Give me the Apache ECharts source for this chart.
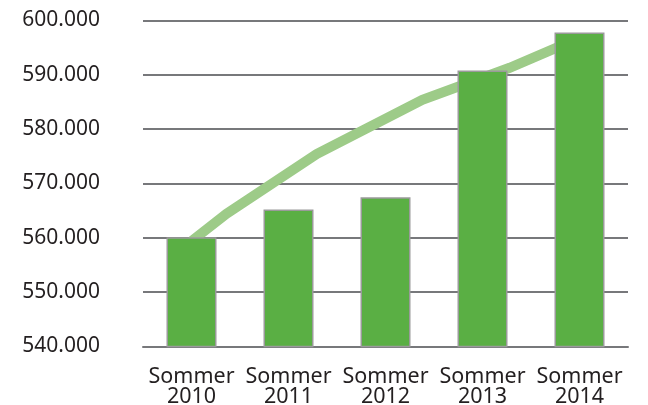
<!DOCTYPE html>
<html><head><meta charset="utf-8">
<script src="https://cdn.jsdelivr.net/npm/echarts@6/dist/echarts.min.js"></script>
<style>html,body{margin:0;padding:0;background:#fff}#c{width:648px;height:405px}</style>
</head><body><div id="c"></div>
<script>
const categories = ["Sommer\n2010", "Sommer\n2011", "Sommer\n2012", "Sommer\n2013", "Sommer\n2014"];
const barValues = [560100, 565200, 567450, 590800, 597800];
const trendX = [0, 0.36, 1.29, 2.38, 3.28, 4];
const trendY = [559400, 564400, 575400, 585400, 591300, 596800];
const yTicks = { min: 540000, max: 600000, interval: 10000 };

const chart = echarts.init(document.getElementById('c'), null, { renderer: 'canvas' });
const font = '"Noto Sans", "Open Sans", sans-serif';
chart.setOption({
  animation: false,
  backgroundColor: '#ffffff',
  grid: { left: 143, width: 485, top: 20.5, height: 326, outerBoundsMode: 'none', containLabel: false },
  xAxis: [
    {
      type: 'category', data: categories,
      axisLine: { show: true, lineStyle: { color: '#77787b', width: 2 } },
      axisTick: { show: false },
      axisLabel: { color: '#231f20', fontFamily: font, fontSize: 21.5, lineHeight: 20, margin: 20, interval: 0 }
    },
    { type: 'value', min: -0.5, max: 4.5, show: false }
  ],
  yAxis: {
    type: 'value', min: yTicks.min, max: yTicks.max, interval: yTicks.interval,
    axisLine: { show: false }, axisTick: { show: false },
    splitLine: { lineStyle: { color: '#77787b', width: 2 } },
    axisLabel: {
      color: '#231f20', fontFamily: font, fontSize: 21, margin: 43,
      formatter: v => (v / 1000).toFixed(0) + '.000'
    }
  },
  series: [
    {
      type: 'line', xAxisIndex: 1, z: 1, symbol: 'none',
      data: trendX.map((x, i) => [x, trendY[i]]),
      lineStyle: { color: '#9dcb88', width: 10, cap: 'butt', join: 'miter' }
    },
    {
      type: 'bar', xAxisIndex: 0, z: 3, data: barValues, barWidth: 50,
      itemStyle: { color: '#5aaf44', borderColor: '#9a9a9a', borderWidth: 1.5 }
    }
  ]
});
</script></body></html>
